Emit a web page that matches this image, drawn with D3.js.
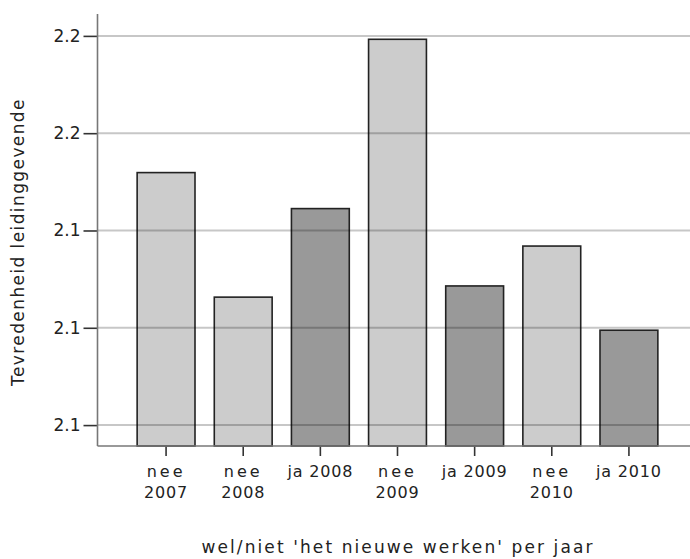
<!DOCTYPE html>
<html>
<head>
<meta charset="utf-8">
<script src="https://cdn.jsdelivr.net/npm/d3@7"></script>
<style>
  body { margin: 0; background: #fff; }
  svg { display: block; }
  text { font-family: "DejaVu Sans", sans-serif; fill: #222; }
</style>
</head>
<body>
<svg id="chart" width="690" height="559"></svg>
<script>
const categories = [["nee", "2007"], ["nee", "2008"], ["ja 2008"], ["nee", "2009"], ["ja 2009"], ["nee", "2010"], ["ja 2010"]];
const groups = ["nee", "nee", "ja", "nee", "ja", "nee", "ja"];
const values = [2.1519, 2.1263, 2.1445, 2.1793, 2.1286, 2.1368, 2.1195];
const yTicks = [2.10, 2.12, 2.14, 2.16, 2.18];
const yTickLabels = ["2.1", "2.1", "2.1", "2.2", "2.2"];
const xTitle = "wel/niet 'het nieuwe werken' per jaar";
const yTitle = "Tevredenheid leidinggevende";

const svg = d3.select("#chart");
const mLeft = 97.5, mRight = 690, mTop = 14, mBottom = 446;

const x = d3.scaleBand()
  .domain(d3.range(categories.length))
  .range([127.5, 667.5])
  .paddingInner(0.25)
  .paddingOuter(0.125);

const y = d3.scaleLinear()
  .domain([2.0957, 2.1845])
  .range([mBottom, mTop]);

const colors = { nee: "#cccccc", ja: "#999999" };

// bars
svg.append("g").selectAll("rect")
  .data(values)
  .join("rect")
  .attr("x", (d, i) => x(i))
  .attr("y", d => y(d))
  .attr("width", x.bandwidth())
  .attr("height", d => mBottom - y(d))
  .attr("fill", (d, i) => colors[groups[i]])
  .attr("stroke", "#222")
  .attr("stroke-width", 1.6);

// gridlines (on top, translucent)
svg.append("g").selectAll("line")
  .data(yTicks)
  .join("line")
  .attr("x1", mLeft).attr("x2", mRight)
  .attr("y1", d => y(d)).attr("y2", d => y(d))
  .attr("stroke", "rgba(0,0,0,0.22)")
  .attr("stroke-width", 2);

// y axis
const yAxis = d3.axisLeft(y)
  .tickValues(yTicks)
  .tickSize(14)
  .tickPadding(3)
  .tickFormat((d, i) => yTickLabels[i]);
const gy = svg.append("g").attr("transform", `translate(${mLeft},0)`).call(yAxis);
gy.select(".domain").remove();
gy.selectAll(".tick line").attr("stroke", "#333").attr("stroke-width", 1.6);
gy.selectAll(".tick text").attr("font-size", 17).attr("fill", "#222")
  .style("font-family", "DejaVu Sans, sans-serif");

svg.append("line")
  .attr("x1", mLeft).attr("x2", mLeft).attr("y1", mTop).attr("y2", mBottom)
  .attr("stroke", "#777").attr("stroke-width", 1.6);

// x axis
const xAxis = d3.axisBottom(x).tickSize(10).tickFormat("");
const gx = svg.append("g").attr("transform", `translate(0,${mBottom})`).call(xAxis);
gx.select(".domain").remove();
gx.selectAll(".tick line").attr("stroke", "#333").attr("stroke-width", 1.6);

svg.append("line")
  .attr("x1", mLeft).attr("x2", mRight).attr("y1", mBottom).attr("y2", mBottom)
  .attr("stroke", "#777").attr("stroke-width", 1.6);

// x labels
const lab = svg.append("g").selectAll("text")
  .data(categories)
  .join("text")
  .attr("text-anchor", "middle")
  .attr("font-size", 16)
  .attr("x", (d, i) => x(i) + x.bandwidth() / 2)
  .attr("y", 477);
lab.each(function(d) {
  const t = d3.select(this);
  d.forEach((line, k) => {
    t.append("tspan")
      .attr("x", t.attr("x"))
      .attr("dy", k === 0 ? 0 : 21)
      .attr("letter-spacing", line === "nee" ? 3 : 0.8)
      .text(line);
  });
});

// axis titles
svg.append("text")
  .attr("x", 398).attr("y", 553)
  .attr("text-anchor", "middle")
  .attr("font-size", 17)
  .attr("letter-spacing", 2.1)
  .text(xTitle);

svg.append("text")
  .attr("transform", `translate(24,${242}) rotate(-90)`)
  .attr("text-anchor", "middle")
  .attr("font-size", 17)
  .attr("letter-spacing", 1.4)
  .text(yTitle);
</script>
</body>
</html>
